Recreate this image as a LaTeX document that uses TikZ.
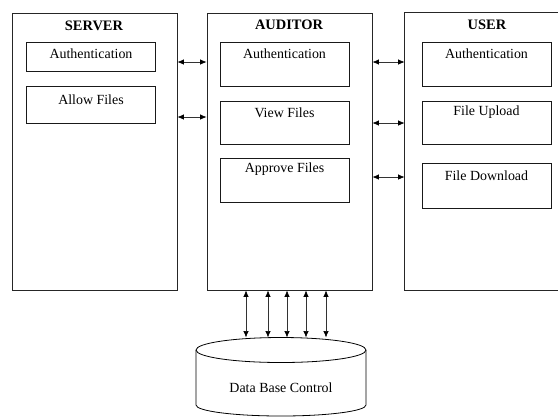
\documentclass[tikz,border=0pt]{standalone}
\usepackage{fontspec}
\setmainfont{Liberation Serif}
\usetikzlibrary{arrows.meta}
\begin{document}
\begin{tikzpicture}[x=1bp,y=-1bp,
  panel/.style={draw=black!85, line width=0.8pt, minimum width=165bp, minimum height=277bp, inner sep=0pt},
  item/.style={draw=black!90, line width=0.8pt, minimum width=129bp, inner sep=0pt},
  itemtext/.style={font=\rmfamily\fontsize{14}{16}\selectfont, inner sep=0pt},
  title/.style={font=\rmfamily\fontsize{14.5}{17}\selectfont\bfseries, inner sep=0pt},
  link/.style={line width=0.7pt, draw=black!80, {Latex[length=6.5bp,width=5.5bp,black]}-{Latex[length=6.5bp,width=5.5bp,black]}}]
\useasboundingbox (0,0) rectangle (558,417);

% three panels
\node[panel] (server) at (94.5,151.5) {};
\node[panel] (auditor) at (289.5,151.5) {};
\node[panel, draw=none, minimum width=153bp] (user) at (481.5,151.5) {};
\draw[black!85, line width=0.8pt] (user.north east) -- (user.north west) -- (user.south west) -- (user.south east);

% titles
\node[title] (tserver) at (94,26) {SERVER};
\node[title] (tauditor) at (289,25) {AUDITOR};
\node[title] (tuser) at (487,25) {USER};

% server items
\node[item, minimum height=29bp] (sauth) at (91,56.5) {};
\node[item, minimum height=37bp] (sallow) at (91,104.5) {};
\node[itemtext] (lsauth) at ([yshift=-12bp]sauth.north) {Authentication};
\node[itemtext] (lsallow) at ([yshift=-14bp]sallow.north) {Allow Files};

% auditor items
\node[item, minimum height=44bp] (aauth) at (284.5,64) {};
\node[item, minimum height=43bp] (aview) at (284.5,122.5) {};
\node[item, minimum height=44bp] (aappr) at (284.5,180) {};
\node[itemtext] (laauth) at ([yshift=-12bp]aauth.north) {Authentication};
\node[itemtext] (laview) at ([yshift=-12bp]aview.north) {View Files};
\node[itemtext] (laappr) at ([yshift=-12bp]aappr.north) {Approve Files};

% user items
\node[item, minimum height=44bp] (uauth) at (486.5,64) {};
\node[item, minimum height=43bp] (uup) at (486.5,122.5) {};
\node[item, minimum height=45bp] (udown) at (486.5,185.5) {};
\node[itemtext] (luauth) at ([yshift=-12bp]uauth.north) {Authentication};
\node[itemtext] (luup) at ([yshift=-12bp]uup.north) {File Upload};
\node[itemtext] (ludown) at ([yshift=-13bp]udown.north) {File Download};

% side links
\coordinate (sa1) at (0,62);
\coordinate (sa2) at (0,117);
\coordinate (au1) at (0,62);
\coordinate (au2) at (0,123);
\coordinate (au3) at (0,177);
\draw[link] (server.east |- sa1) -- (auditor.west |- sa1);
\draw[link] (server.east |- sa2) -- (auditor.west |- sa2);
\draw[link] (auditor.east |- au1) -- (user.west |- au1);
\draw[link] (auditor.east |- au2) -- (user.west |- au2);
\draw[link] (auditor.east |- au3) -- (user.west |- au3);

% database cylinder
\draw[line width=0.8pt] (281,350) ellipse [x radius=85bp, y radius=12.5bp];
\draw[line width=0.8pt] (196,350) -- (196,405) arc[start angle=180, end angle=360, x radius=85bp, y radius=11bp] -- (366,350);
\node[itemtext] (db) at (281,388) {Data Base Control};
\coordinate (d1) at (246,337.5);
\coordinate (d2) at (268,337.5);
\coordinate (d3) at (287,337.5);
\coordinate (d4) at (306,337.5);
\coordinate (d5) at (326,337.5);
\foreach \c in {d1,d2,d3,d4,d5}
  \draw[link] (auditor.south -| \c) -- (\c);
\end{tikzpicture}
\end{document}
